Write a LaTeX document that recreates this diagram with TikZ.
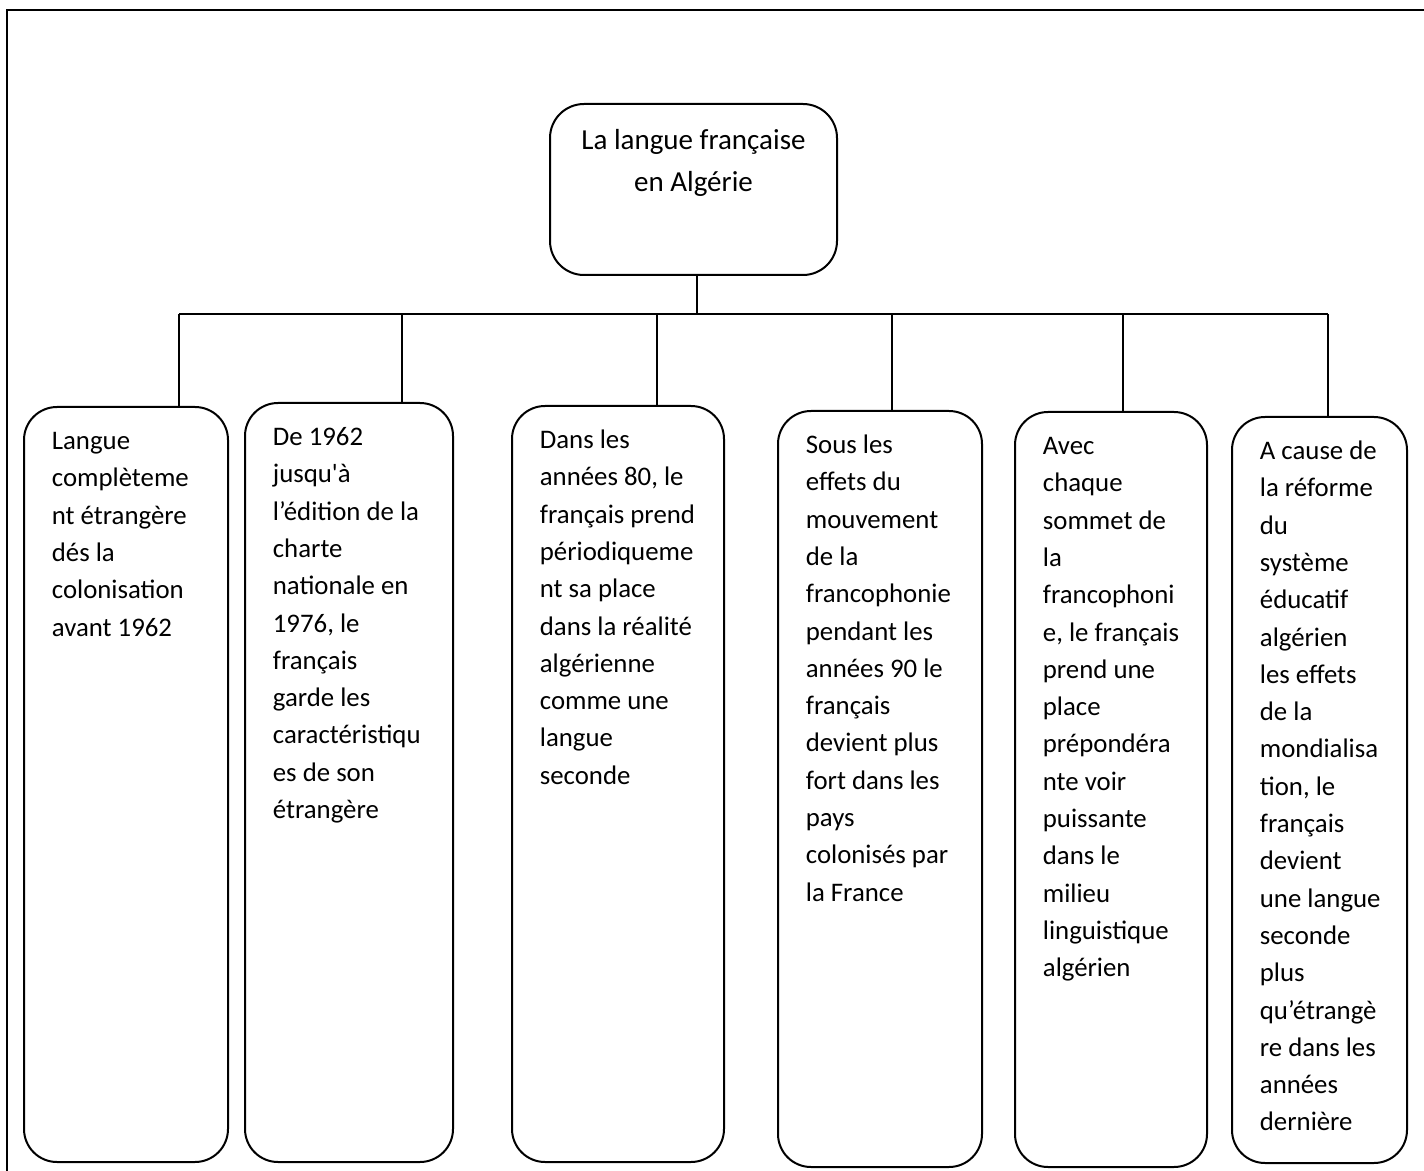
\documentclass[tikz,border=0pt]{standalone}
\usepackage{fontspec}
\setmainfont{Carlito}
\usetikzlibrary{positioning}

\begin{document}
\begin{tikzpicture}[
    x=0.5pt, y=-0.5pt,
    root/.style={rectangle, draw, line width=1pt, inner sep=0pt, rounded corners=17pt, minimum width=143.5pt, minimum height=85.5pt},
    branch/.style={rectangle, draw, line width=1pt, inner sep=0pt, rounded corners=16.5pt},
    roottext/.style={anchor=north, inner sep=0pt, align=center, font=\fontsize{14.5}{21}\selectfont, yshift=-8.3pt},
    branchtext/.style={anchor=north west, inner sep=0pt, align=left, font=\fontsize{13.4}{18.65}\selectfont, xshift=14.25pt, yshift=-8.5pt},
    link/.style={line width=1pt}
]
\useasboundingbox (0,0) rectangle (1424,1171);

% Frame
\draw[line width=1.2pt] (7,1171) -- (7,10) -- (1424,10);

% Root
\node[root] (root) at (693.5,189.5) {};
\node[roottext] (roottitle) at (root.north) {\strut La langue française\\en Algérie};

% Branches
\node[branch, minimum width=102pt, minimum height=377.5pt] (b1) at (126,784.5) {};
\node[branch, minimum width=104pt, minimum height=379.5pt] (b2) at (349,782.5) {};
\node[branch, minimum width=106pt, minimum height=378pt] (b3) at (618,784) {};
\node[branch, minimum width=102pt, minimum height=378pt] (b4) at (880,789) {};
\node[branch, minimum width=96pt, minimum height=377.5pt] (b5) at (1111,789.5) {};
\node[branch, minimum width=87.5pt, minimum height=373pt] (b6) at (1319.5,790) {};

\node[branchtext] (t1) at (b1.north west) {\strut Langue\\complèteme\\nt étrangère\\dés la\\colonisation\\avant 1962};
\node[branchtext] (t2) at (b2.north west) {\strut De 1962\\jusqu\textquotesingle à\\l’édition de la\\charte\\nationale en\\1976, le\\français\\garde les\\caractéristiqu\\es de son\\étrangère};
\node[branchtext] (t3) at (b3.north west) {\strut Dans les\\années 80, le\\français prend\\périodiqueme\\nt sa place\\dans la réalité\\algérienne\\comme une\\langue\\seconde};
\node[branchtext] (t4) at (b4.north west) {\strut Sous les\\effets du\\mouvement\\de la\\francophonie\\pendant les\\années 90 le\\français\\devient plus\\fort dans les\\pays\\colonisés par\\la France};
\node[branchtext] (t5) at (b5.north west) {\strut Avec\\chaque\\sommet de\\la\\francophoni\\e, le français\\prend une\\place\\prépondéra\\nte voir\\puissante\\dans le\\milieu\\linguistique\\algérien};
\node[branchtext] (t6) at (b6.north west) {\strut A cause de\\la réforme\\du\\système\\éducatif\\algérien\\les effets\\de la\\mondialisa\\tion, le\\français\\devient\\une langue\\seconde\\plus\\qu’étrangè\\re dans les\\années\\dernière};

% Connections
\coordinate (bus) at (697,314);
\coordinate (j1) at (179,314);
\coordinate (j2) at (402,314);
\coordinate (j3) at (657,314);
\coordinate (j4) at (892,314);
\coordinate (j5) at (1123,314);
\coordinate (j6) at (1328,314);

\draw[link] (root.south -| bus) -- (bus);
\draw[link] (j1) -- (j6);
\draw[link] (j1) -- (j1 |- b1.north);
\draw[link] (j2) -- (j2 |- b2.north);
\draw[link] (j3) -- (j3 |- b3.north);
\draw[link] (j4) -- (j4 |- b4.north);
\draw[link] (j5) -- (j5 |- b5.north);
\draw[link] (j6) -- (j6 |- b6.north);

\end{tikzpicture}
\end{document}
